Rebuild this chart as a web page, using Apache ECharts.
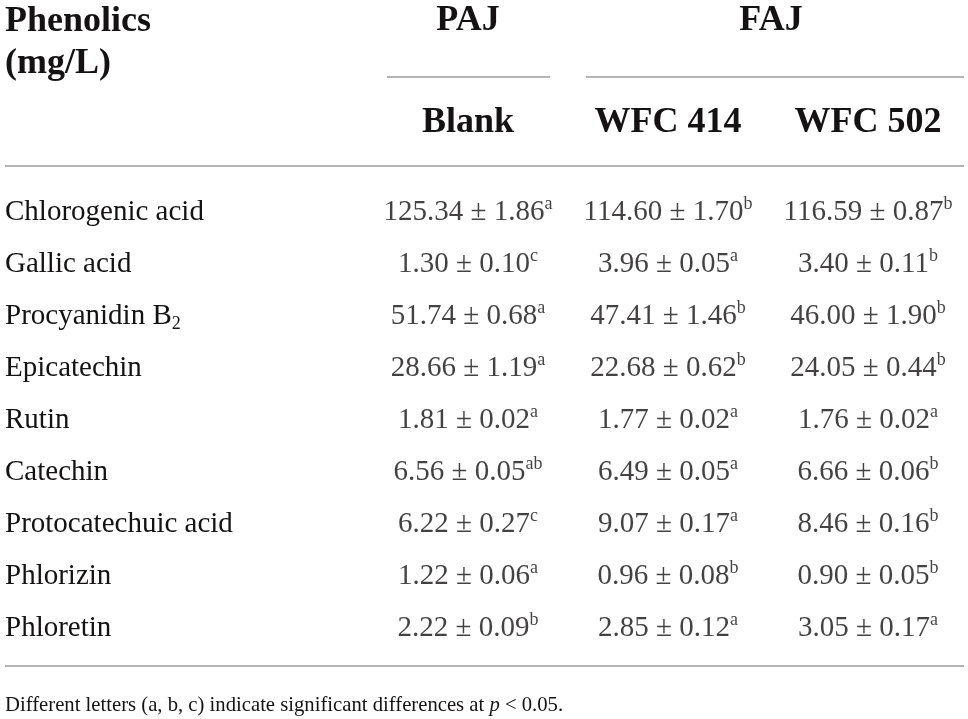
<!DOCTYPE html>
<html>
<head>
<meta charset="utf-8">
<script src="https://cdn.jsdelivr.net/npm/echarts@6/dist/echarts.min.js"></script>
<style>
  html, body { margin: 0; padding: 0; background: #fff; }
  #table { width: 968px; height: 719px; }
</style>
</head>
<body>
<div id="table"></div>
<script>
// table content
const rowNames = ["Chlorogenic acid", "Gallic acid", "Procyanidin B2", "Epicatechin", "Rutin",
  "Catechin", "Protocatechuic acid", "Phlorizin", "Phloretin"];
const colNames = ["Blank", "WFC 414", "WFC 502"];
const groupNames = ["PAJ", "FAJ"];

const blankMean = ["125.34", "1.30", "51.74", "28.66", "1.81", "6.56", "6.22", "1.22", "2.22"];
const blankSd = ["1.86", "0.10", "0.68", "1.19", "0.02", "0.05", "0.27", "0.06", "0.09"];
const blankSig = ["a", "c", "a", "a", "a", "ab", "c", "a", "b"];

const wfc414Mean = ["114.60", "3.96", "47.41", "22.68", "1.77", "6.49", "9.07", "0.96", "2.85"];
const wfc414Sd = ["1.70", "0.05", "1.46", "0.62", "0.02", "0.05", "0.17", "0.08", "0.12"];
const wfc414Sig = ["b", "a", "b", "b", "a", "a", "a", "b", "a"];

const wfc502Mean = ["116.59", "3.40", "46.00", "24.05", "1.76", "6.66", "8.46", "0.90", "3.05"];
const wfc502Sd = ["0.87", "0.11", "1.90", "0.44", "0.02", "0.06", "0.16", "0.05", "0.17"];
const wfc502Sig = ["b", "b", "b", "b", "a", "b", "b", "b", "a"];

const FONT = "'Liberation Serif', 'DejaVu Serif', serif";
const INK = "#141213";
const RULE = "#b4b4b4";

const chart = echarts.init(document.getElementById("table"));

const columns = [
  [blankMean, blankSd, blankSig],
  [wfc414Mean, wfc414Sd, wfc414Sig],
  [wfc502Mean, wfc502Sd, wfc502Sig]
];

// one cell per (column, row)
const cells = [];
columns.forEach((col, j) => {
  rowNames.forEach((_, i) => {
    cells.push({ value: [j, i], mean: col[0][i], sd: col[1][i], sig: col[2][i] });
  });
});

const bodyRich = {
  v: { fontFamily: FONT, fontSize: 29, lineHeight: 34, color: INK },
  sup: { fontFamily: FONT, fontSize: 18, lineHeight: 18, color: INK, verticalAlign: "top" },
  sub: { fontFamily: FONT, fontSize: 18, lineHeight: 18, color: INK, verticalAlign: "bottom" }
};

chart.setOption({
  animation: false,
  grid: { left: 368, top: 186, width: 608, height: 468 },
  xAxis: {
    type: "category",
    position: "top",
    data: colNames,
    axisLine: { show: false },
    axisTick: { show: false },
    splitLine: { show: false },
    axisLabel: {
      margin: 63,
      verticalAlign: "middle",
      fontFamily: FONT,
      fontWeight: "bold",
      fontSize: 36,
      color: INK
    }
  },
  yAxis: {
    type: "category",
    inverse: true,
    data: rowNames,
    axisLine: { show: false },
    axisTick: { show: false },
    splitLine: { show: false },
    axisLabel: {
      align: "left",
      margin: 363,
      verticalAlign: "middle",
      formatter: function (name) {
        const m = name.match(/^(.*B)(2)$/);
        if (m) return "{v|" + m[1] + "}{sub|" + m[2] + "}";
        return "{v|" + name + "}";
      },
      rich: bodyRich
    }
  },
  series: [{
    type: "scatter",
    symbolSize: 1,
    itemStyle: { color: "rgba(0,0,0,0)" },
    silent: true,
    data: cells,
    label: {
      show: true,
      position: "inside",
      formatter: function (p) {
        const d = p.data;
        return "{v|" + d.mean + " \u00b1 " + d.sd + "}{sup|" + d.sig + "}";
      },
      rich: bodyRich
    }
  }]
});

// header / rules placed from the category positions
const c0 = chart.convertToPixel({ gridIndex: 0 }, [0, 0])[0];
const c1 = chart.convertToPixel({ gridIndex: 0 }, [1, 0])[0];
const c2 = chart.convertToPixel({ gridIndex: 0 }, [2, 0])[0];
const half = (c1 - c0) / 2;

const headStyle = { fontFamily: FONT, fontWeight: "bold", fontSize: 36, fill: INK };

chart.setOption({
  graphic: [
    { type: "text", left: 5, top: 4, style: Object.assign({ text: "Phenolics" }, headStyle) },
    { type: "text", left: 5, top: 46, style: Object.assign({ text: "(mg/L)" }, headStyle) },
    { type: "text", x: c0, y: 21, style: Object.assign({ text: groupNames[0], align: "center", verticalAlign: "middle" }, headStyle) },
    { type: "text", x: (c1 + c2) / 2 + 3, y: 21, style: Object.assign({ text: groupNames[1], align: "center", verticalAlign: "middle" }, headStyle) },
    { type: "line", shape: { x1: c0 - half + 19, y1: 77, x2: c0 + half - 18, y2: 77 }, style: { stroke: RULE, lineWidth: 2 } },
    { type: "line", shape: { x1: c1 - half + 18, y1: 77, x2: 964, y2: 77 }, style: { stroke: RULE, lineWidth: 2 } },
    { type: "line", shape: { x1: 5, y1: 166, x2: 964, y2: 166 }, style: { stroke: RULE, lineWidth: 2 } },
    { type: "line", shape: { x1: 5, y1: 666, x2: 964, y2: 666 }, style: { stroke: RULE, lineWidth: 2 } },
    {
      type: "text", left: 5, top: 694, scaleX: 0.94,
      style: {
        text: "{n|Different letters (a, b, c) indicate significant differences at }{i|p}{n| < 0.05.}",
        rich: {
          n: { fontFamily: FONT, fontSize: 22, fill: INK, color: INK },
          i: { fontFamily: FONT, fontSize: 22, fontStyle: "italic", fill: INK, color: INK }
        }
      }
    }
  ]
});

window.addEventListener("resize", () => chart.resize());
</script>
</body>
</html>
